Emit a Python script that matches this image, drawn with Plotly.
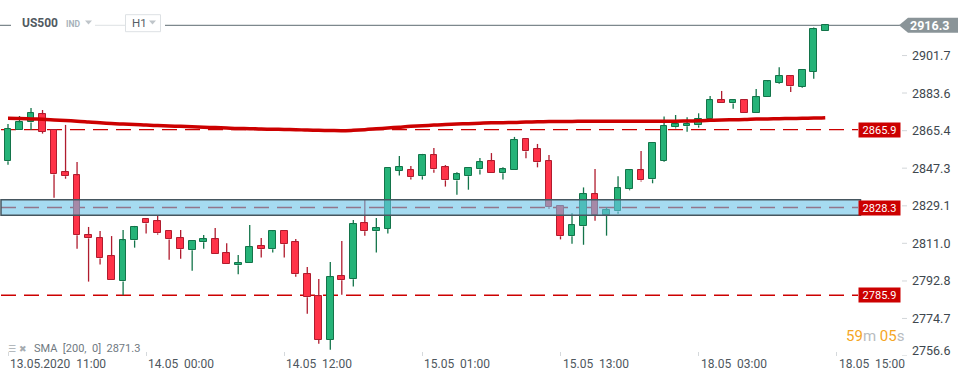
import plotly.graph_objects as go

# ---------------- data ----------------
opens = [2850.6, 2865.6, 2869.4, 2873.3, 2865.6, 2845.3, 2843.8, 2814.9, 2813.4, 2804.7,
         2792.6, 2812.4, 2822.6, 2821.6, 2816.8, 2813.4, 2807.6, 2811.5, 2812.9, 2806.2,
         2800.4, 2801.3, 2809.7, 2808.1, 2816.8, 2811.5, 2796.0, 2785.4, 2764.5, 2795.1,
         2793.6, 2820.7, 2816.8, 2818.1, 2846.1, 2846.3, 2843.4, 2853.5, 2847.7, 2841.4,
         2843.4, 2846.7, 2850.6, 2844.8, 2846.3, 2861.2, 2856.4, 2850.6, 2828.9, 2814.4,
         2819.2, 2834.7, 2824.5, 2826.4, 2837.1, 2846.3, 2841.9, 2850.9, 2867.0, 2867.5,
         2868.0, 2870.9, 2880.1, 2878.6, 2880.1, 2873.8, 2881.5, 2888.4, 2891.7, 2886.7,
         2893.9, 2913.4]
highs = [2868.6, 2872.5, 2876.4, 2875.4, 2865.6, 2868.2, 2850.3, 2818.9, 2817.0, 2814.5,
         2817.4, 2819.4, 2823.1, 2824.2, 2816.8, 2817.4, 2812.0, 2815.0, 2818.4, 2811.0,
         2805.4, 2819.8, 2813.6, 2817.4, 2816.8, 2813.1, 2799.6, 2793.8, 2802.0, 2812.1,
         2822.3, 2832.4, 2823.2, 2847.2, 2853.2, 2848.4, 2854.2, 2857.0, 2848.8, 2845.3,
         2847.2, 2852.2, 2854.6, 2847.7, 2862.4, 2861.2, 2859.0, 2853.7, 2829.4, 2825.5,
         2838.0, 2846.9, 2828.4, 2843.4, 2846.9, 2855.6, 2859.3, 2872.3, 2873.0, 2871.9,
         2873.8, 2882.2, 2884.6, 2880.5, 2880.5, 2885.5, 2889.9, 2896.0, 2892.3, 2894.6,
         2915.3, 2916.8]
lows = [2849.0, 2865.6, 2865.7, 2864.0, 2833.0, 2842.2, 2808.4, 2792.5, 2800.8, 2793.1,
        2785.9, 2808.9, 2815.7, 2815.2, 2803.1, 2803.6, 2797.8, 2808.4, 2805.7, 2800.8,
        2796.0, 2801.3, 2804.1, 2806.5, 2804.1, 2794.9, 2777.0, 2762.5, 2759.6, 2786.2,
        2790.1, 2814.7, 2806.5, 2815.7, 2843.7, 2841.8, 2841.8, 2845.1, 2838.4, 2834.5,
        2836.9, 2844.3, 2844.8, 2841.8, 2846.3, 2852.1, 2847.7, 2827.7, 2812.9, 2810.8,
        2810.3, 2821.9, 2814.7, 2825.3, 2836.6, 2840.8, 2840.0, 2850.4, 2866.5, 2864.9,
        2866.9, 2870.9, 2878.6, 2876.0, 2873.8, 2873.8, 2881.5, 2888.1, 2884.1, 2886.2,
        2890.5, 2913.4]
closes = [2866.1, 2869.4, 2873.8, 2864.9, 2844.3, 2843.4, 2814.9, 2813.4, 2803.7, 2793.1,
          2812.4, 2818.7, 2820.6, 2815.8, 2812.9, 2808.1, 2812.0, 2812.9, 2805.7, 2800.8,
          2801.5, 2809.1, 2808.1, 2816.8, 2810.5, 2796.0, 2784.9, 2764.5, 2794.6, 2793.1,
          2820.2, 2816.8, 2818.2, 2847.2, 2847.7, 2842.9, 2853.5, 2846.7, 2841.4, 2844.3,
          2847.2, 2850.1, 2844.8, 2846.7, 2860.8, 2855.4, 2850.1, 2828.4, 2814.4, 2819.7,
          2834.7, 2824.5, 2826.9, 2837.6, 2846.3, 2841.4, 2859.3, 2867.5, 2868.5, 2868.5,
          2870.9, 2880.1, 2878.6, 2880.1, 2873.8, 2881.5, 2889.2, 2891.7, 2886.8, 2894.6,
          2914.4, 2916.3]
sma200 = [2871.4, 2871.3, 2871.1, 2870.9, 2870.6, 2870.3, 2870.0, 2869.6, 2869.2, 2868.9,
          2868.6, 2868.4, 2868.1, 2867.9, 2867.7, 2867.5, 2867.3, 2867.1, 2866.9, 2866.7,
          2866.5, 2866.4, 2866.2, 2866.1, 2866.0, 2865.9, 2865.7, 2865.6, 2865.5, 2865.4,
          2865.6, 2865.9, 2866.3, 2866.7, 2867.1, 2867.5, 2867.8, 2868.1, 2868.4, 2868.6,
          2868.8, 2869.0, 2869.2, 2869.3, 2869.4, 2869.6, 2869.7, 2869.8, 2869.9, 2869.9,
          2870.0, 2870.0, 2870.0, 2870.0, 2870.0, 2870.0, 2870.0, 2870.0, 2870.0, 2870.1,
          2870.2, 2870.4, 2870.6, 2870.7, 2870.8, 2871.0, 2871.1, 2871.2, 2871.3, 2871.4,
          2871.5, 2871.7]

x_tick_idx = [0, 12, 24, 36, 48, 60, 72]
x_tick_labels = ["13.05.2020\u00a0\u00a011:00", "14.05\u00a0\u00a000:00", "14.05\u00a0\u00a012:00",
                 "15.05\u00a0\u00a001:00", "15.05\u00a0\u00a013:00", "18.05\u00a0\u00a003:00",
                 "18.05\u00a0\u00a015:00"]
y_ticks = [2756.6, 2774.7, 2792.8, 2811.0, 2829.1, 2847.3, 2865.4, 2883.6, 2901.7]
levels = [2865.9, 2828.3, 2785.9]
zone = [2824.6, 2832.1]
last_price = 2916.3
sma_value = 2871.3
symbol = "US500"

# ---------------- layout geometry ----------------
W, H = 970, 381
L, R, T, B = 0, 110, 10, 25
PW, PH = W - L - R, H - T - B


def px(x):
    return (x - L) / PW


def py(y):
    return (H - B - y) / PH


FONT = "Roboto, 'Open Sans', sans-serif"
GREEN, GREEN_D = "#25b378", "#13744a"
RED, RED_D = "#ff3348", "#b01c2e"

n = len(opens)
xs = list(range(n))
inc = [c >= o for o, c in zip(opens, closes)]
base = [min(o, c) for o, c in zip(opens, closes)]
hgt = [max(abs(c - o), 0.5) for o, c in zip(opens, closes)]

fig = go.Figure()

# wicks
for up, col in ((True, GREEN_D), (False, RED_D)):
    wx, wy = [], []
    for i in xs:
        if inc[i] != up:
            continue
        top = max(opens[i], closes[i])
        bot = min(opens[i], closes[i])
        wx += [i, i, None, i, i, None]
        wy += [highs[i], top, None, bot, lows[i], None]
    fig.add_trace(go.Scatter(x=wx, y=wy, mode="lines", line=dict(color=col, width=1.3),
                             hoverinfo="skip", showlegend=False))

# bodies
fig.add_trace(go.Bar(x=xs, y=hgt, base=base, width=0.58,
                     marker=dict(color=[GREEN if u else RED for u in inc],
                                 line=dict(color=[GREEN_D if u else RED_D for u in inc], width=1)),
                     showlegend=False))

# SMA 200
fig.add_trace(go.Scatter(x=xs, y=sma200, mode="lines", line=dict(color="#cc0000", width=3.5, shape="spline"),
                         showlegend=False, hoverinfo="skip"))

shapes = []
# last price line
shapes.append(dict(type="line", xref="paper", yref="y", x0=0, x1=px(900), y0=last_price, y1=last_price,
                   line=dict(color="#7d888d", width=1.3), layer="below"))
# level lines
for lv in levels:
    shapes.append(dict(type="line", xref="paper", yref="y", x0=px(1), x1=px(858), y0=lv, y1=lv,
                       line=dict(color="#cc0000", width=1.3, dash="15px,8px"), layer="below"))
# zone
shapes.append(dict(type="rect", xref="paper", yref="y", x0=px(1), x1=px(860.5), y0=zone[0], y1=zone[1],
                   fillcolor="rgb(107,195,232)", opacity=0.6, line=dict(width=0), layer="above"))
shapes.append(dict(type="rect", xref="paper", yref="y", x0=px(1), x1=px(860.5), y0=zone[0], y1=zone[1],
                   fillcolor="rgba(0,0,0,0)", line=dict(color="#46565f", width=1.5), layer="above"))
# last price tag
hh = 3.62
shapes.append(dict(type="path", xref="paper", yref="y",
                   path=f"M {px(899)},{last_price} L {px(908)},{last_price + hh} L {px(958)},{last_price + hh} "
                        f"L {px(958)},{last_price - hh} L {px(908)},{last_price - hh} Z",
                   fillcolor="#8a9498", line=dict(width=0), layer="above"))
# y tick dashes
for v in y_ticks:
    shapes.append(dict(type="line", xref="paper", yref="y", x0=px(902), x1=px(907), y0=v, y1=v,
                       line=dict(color="#d2d6d9", width=1)))
# header
shapes.append(dict(type="rect", xref="paper", yref="paper", x0=px(11), x1=px(165), y0=py(33), y1=py(15),
                   fillcolor="white", line=dict(width=0), layer="above"))
shapes.append(dict(type="line", xref="paper", yref="y", x0=px(95), x1=px(125), y0=last_price, y1=last_price,
                   line=dict(color="#e3e6e8", width=1.2), layer="above"))
shapes.append(dict(type="rect", xref="paper", yref="paper", x0=px(125.5), x1=px(160.5), y0=py(31.7), y1=py(14.7),
                   fillcolor="white", line=dict(color="#dde1e4", width=1), layer="above"))
for (a, b) in ((85, 92), (149, 156)):
    shapes.append(dict(type="path", xref="paper", yref="paper",
                       path=f"M {px(a)},{py(20.5)} L {px(b)},{py(20.5)} L {px((a + b) / 2)},{py(24.5)} Z",
                       fillcolor="#bfc5ca", line=dict(width=0), layer="above"))

ann = []
# y tick labels
for v in y_ticks:
    ann.append(dict(xref="paper", yref="y", x=px(910), y=v, text=f"{v:.1f}", showarrow=False,
                    xanchor="left", yanchor="middle", yshift=5 if v == min(y_ticks) else 0,
                    font=dict(family=FONT, size=12.5, color="#3e474e")))
# x tick labels
for i, t in zip(x_tick_idx, x_tick_labels):
    ann.append(dict(xref="x", yref="paper", x=i, y=py(363.5), text=t, showarrow=False,
                    xanchor="left", yanchor="middle", xshift=0,
                    font=dict(family=FONT, size=12, color="#4e575e")))
# level labels
for lv in levels:
    ann.append(dict(xref="paper", yref="y", x=px(879.5), y=lv, text=f"{lv:.1f}", showarrow=False,
                    xanchor="center", yanchor="middle", bgcolor="#cc0000", width=41, height=14,
                    borderpad=0, font=dict(family=FONT, size=11, color="white")))
# last price text
ann.append(dict(xref="paper", yref="y", x=px(929), y=last_price, text=f"<b>{last_price:.1f}</b>",
                showarrow=False, xanchor="center", yanchor="middle",
                font=dict(family=FONT, size=12.5, color="white")))
# header text
ann.append(dict(xref="paper", yref="paper", x=px(20), y=py(23.3), text=f"<b>{symbol}</b>", showarrow=False,
                xanchor="left", yanchor="middle", font=dict(family=FONT, size=12, color="#515a61")))
ann.append(dict(xref="paper", yref="paper", x=px(63.5), y=py(24), text="<b>IND</b>", showarrow=False,
                xanchor="left", yanchor="middle", font=dict(family=FONT, size=8.5, color="#a7b2ba")))
ann.append(dict(xref="paper", yref="paper", x=px(130), y=py(23.5), text="H1", showarrow=False,
                xanchor="left", yanchor="middle", font=dict(family=FONT, size=11.5, color="#555e65")))
# SMA legend
ann.append(dict(xref="paper", yref="paper", x=px(6), y=py(348.5), text="☰ ✖", showarrow=False,
                xanchor="left", yanchor="middle", font=dict(family="DejaVu Sans", size=9, color="#a5abb0")))
ann.append(dict(xref="paper", yref="paper", x=px(32), y=py(348.5),
                text=f"SMA\u00a0\u00a0[200,\u00a0\u00a00]\u00a0\u00a0{sma_value:.1f}", showarrow=False,
                xanchor="left", yanchor="middle", font=dict(family=FONT, size=11, color="#70797f")))
# countdown
ann.append(dict(xref="paper", yref="paper", x=px(844), y=py(336), showarrow=False, xanchor="left",
                yanchor="middle",
                text="<span style='color:#f5a623'>59</span><span style='color:#b8bcbf'>m</span> "
                     "<span style='color:#f5a623'>05</span><span style='color:#b8bcbf'>s</span>",
                font=dict(family=FONT, size=15, color="#f5a623")))

fig.update_layout(
    width=W, height=H,
    margin=dict(l=L, r=R, t=T, b=B),
    paper_bgcolor="white", plot_bgcolor="white",
    showlegend=False, bargap=0,
    shapes=shapes, annotations=ann,
    xaxis=dict(range=[-0.695, 74.02], showgrid=False, zeroline=False, showline=False,
               tickvals=x_tick_idx, ticks="inside", ticklen=4, tickcolor="#d5d9dc",
               showticklabels=False, fixedrange=True),
    yaxis=dict(range=[2756.56, 2923.71], showgrid=False, zeroline=False, showline=False,
               showticklabels=False, ticks="", fixedrange=True),
)

fig.write_html("out.html", config={"displayModeBar": False},
               post_script="document.body.style.margin='0';document.body.style.overflow='hidden';")
